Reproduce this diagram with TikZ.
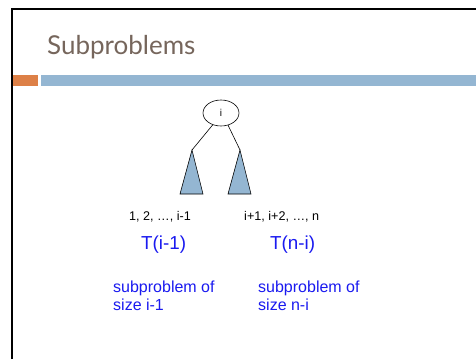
\documentclass[tikz,border=0pt]{standalone}
\usepackage{fontspec}
\setmainfont{Liberation Sans}
\newfontfamily\titlefont{Lato}
\usetikzlibrary{shapes.geometric}
\definecolor{titlec}{HTML}{76665C}
\definecolor{barblue}{HTML}{94B6D2}
\definecolor{barorange}{HTML}{DD8047}
\definecolor{tri}{HTML}{94B6D2}
\definecolor{txtblue}{HTML}{1A1AF0}
\begin{document}
\begin{tikzpicture}[x=1pt,y=-1pt,
  frame/.style={line width=2.2pt,black},
  tree/.style={draw=black,line width=0.6pt},
  subtree/.style={draw=black,fill=tri,line width=0.6pt},
  seq/.style={font=\fontsize{12.6}{14}\selectfont,inner sep=0pt},
  tfun/.style={font=\fontsize{18.8}{22}\selectfont,text=txtblue,inner sep=0pt},
  desc/.style={font=\fontsize{16}{18}\selectfont,text=txtblue,inner sep=0pt,align=left}]
\useasboundingbox (0,0) rectangle (476,359);
\fill[white] (0,0) rectangle (476,359);
% frame
\draw[frame] (12,359) -- (12,9) -- (476,9);
% title
\node[anchor=base west,inner sep=0pt,text=titlec,font=\titlefont\fontsize{26}{30}\selectfont] (title) at (47,54) {Subproblems};
% bars
\fill[barorange] (13,75) rectangle (38,86);
\fill[barblue] (41,75) rectangle (476,86);
% tree
\node[ellipse,tree,minimum width=36pt,minimum height=26pt,inner sep=0pt,font=\fontsize{10}{11}\selectfont] (root) at (221,113) {i};
\coordinate (la) at (192,150);
\coordinate (ra) at (240,150);
\coordinate (lb1) at (180,194);
\coordinate (lb2) at (203,194);
\coordinate (rb1) at (228,194);
\coordinate (rb2) at (251,194);
\draw[tree] (root.-125) -- (la);
\draw[tree] (root.-60) -- (ra);
\draw[subtree,line join=miter] (la) -- (lb1) -- (lb2) -- cycle;
\draw[subtree,line join=miter] (ra) -- (rb1) -- (rb2) -- cycle;
% labels
\node[seq,anchor=west] (lseq) at (129,217) {1, 2, \ldots, i-1};
\node[seq,anchor=west] (rseq) at (244,217) {i+1, i+2, \ldots, n};
\node[tfun,anchor=west] (lt) at (141,245) {T(i-1)};
\node[tfun,anchor=west] (rt) at (270,245) {T(n-i)};
\node[desc,anchor=north west] (ld) at (113,281) {subproblem of\\size i-1};
\node[desc,anchor=north west] (rd) at (258,281) {subproblem of\\size n-i};
\end{tikzpicture}
\end{document}
